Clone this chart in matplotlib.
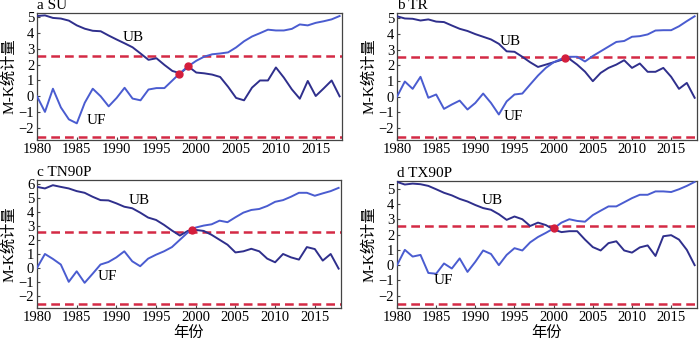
import numpy as np
import matplotlib
matplotlib.use("Agg")
from matplotlib import pyplot as plt

years = np.arange(1980, 2019)

# a SU
su_uf = [0, -0.98, 0.48, -0.7, -1.45, -1.7, -0.4, 0.48, 0, -0.63, -0.1, 0.54, -0.14, -0.25, 0.43, 0.52,
         0.52, 1.0, 1.48, 1.9, 2.24, 2.5, 2.65, 2.7, 2.77, 3.08, 3.47, 3.77, 3.98, 4.2, 4.15, 4.15, 4.25,
         4.53, 4.47, 4.63, 4.73, 4.85, 5.06]
su_ub = [5.06, 5.1, 4.94, 4.9, 4.77, 4.47, 4.26, 4.13, 4.1, 3.83, 3.58, 3.34, 3.09, 2.7, 2.3, 2.4,
         1.98, 1.6, 1.45, 1.88, 1.5, 1.45, 1.37, 1.22, 0.6, -0.1, -0.25, 0.55, 1.0, 1.0, 1.82, 1.18,
         0.44, -0.15, 0.97, 0.02, 0.5, 1.0, 0.0]
# b TR
tr_uf = [0, 0.97, 0.5, 1.27, -0.07, 0.14, -0.78, -0.5, -0.25, -0.82, -0.4, 0.2, -0.4, -1.14, -0.3, 0.14,
         0.2, 0.78, 1.35, 1.84, 2.2, 2.42, 2.55, 2.55, 2.25, 2.6, 2.9, 3.2, 3.5, 3.56, 3.83, 3.87, 3.98,
         4.23, 4.25, 4.25, 4.5, 4.83, 5.14]
tr_ub = [5.14, 5.0, 4.98, 4.87, 4.94, 4.8, 4.77, 4.55, 4.34, 4.2, 4.0, 3.83, 3.66, 3.38, 2.9, 2.87,
         2.55, 2.2, 1.9, 2.05, 2.2, 2.35, 2.42, 2.05, 1.6, 0.99, 1.52, 1.84, 2.05, 2.33, 1.84, 2.12,
         1.59, 1.59, 1.84, 1.27, 0.5, 0.88, -0.07]
# c TN90P
tn_uf = [0, 0.99, 0.64, 0.24, -0.99, -0.24, -1.06, -0.42, 0.24, 0.42, 0.75, 1.18, 0.47, 0.12, 0.66, 0.94,
         1.18, 1.48, 2.0, 2.52, 2.87, 3.01, 3.1, 3.36, 3.25, 3.6, 3.93, 4.12, 4.19, 4.4, 4.7, 4.82, 5.06,
         5.34, 5.34, 5.13, 5.3, 5.46, 5.69]
tn_ub = [5.76, 5.65, 5.88, 5.76, 5.65, 5.46, 5.34, 5.06, 4.82, 4.8, 4.59, 4.35, 4.24, 3.93, 3.58, 3.41,
         3.06, 2.66, 2.3, 2.63, 2.7, 2.63, 2.35, 2.0, 1.65, 1.1, 1.18, 1.36, 1.18, 0.66, 0.4, 0.99, 0.75,
         0.59, 1.48, 1.34, 0.52, 0.99, -0.05]
# d TX90P
tx_uf = [0, 1.0, 0.56, 0.67, -0.51, -0.56, 0.11, -0.22, 0.44, -0.44, 0.22, 0.96, 0.73, 0, 0.67, 1.11,
         0.96, 1.49, 1.84, 2.11, 2.4, 2.78, 3.0, 2.89, 2.84, 3.27, 3.56, 3.84, 3.84, 4.11, 4.38, 4.6, 4.6,
         4.82, 4.82, 4.78, 4.96, 5.18, 5.44]
tx_ub = [5.44, 5.27, 5.33, 5.29, 5.18, 4.96, 4.73, 4.56, 4.33, 4.16, 3.93, 3.73, 3.62, 3.33, 2.96, 3.18,
         3.0, 2.56, 2.78, 2.62, 2.33, 2.16, 2.22, 2.22, 1.67, 1.18, 0.96, 1.44, 1.56, 0.96, 0.82, 1.16, 1.29,
         0.6, 1.89, 1.96, 1.67, 1.0, 0]

titles = ["a SU", "b TR", "c TN90P", "d TX90P"]
uf_all = [su_uf, tr_uf, tn_uf, tx_uf]
ub_all = [su_ub, tr_ub, tn_ub, tx_ub]
# mutation years (red dots, placed on UF)
cross_years = [[1997.8, 1999.0], [2001.5], [1999.5], [2000.0]]
# where the UB / UF labels sit
ub_label = [(1992.1, 3.7), (1994.4, 3.5), (1992.9, 4.8), (1992.2, 4.2)]
uf_label = [(1987.5, -1.5), (1994.9, -1.25), (1988.9, -0.6), (1985.9, -1.0)]
ylims = [(-2.75, 5.25), (-2.77, 5.35), (-2.85, 6.25), (-2.8, 5.5)]
yticks = [range(-2, 6), range(-2, 6), range(-2, 7), range(-2, 6)]
crit = 2.56

serif = ["Liberation Serif", "Noto Sans CJK SC"]
cjk = ["Noto Sans CJK SC", "Liberation Serif"]

fig = plt.figure(figsize=(7, 3.43), dpi=100)
# axes rectangles in pixels: left, right, top, bottom
rects = [(37, 342, 13, 140), (397, 697, 13, 140), (37, 341, 180, 308), (397, 697, 181, 308)]
W, H = 700.0, 343.0

for i in range(4):
    l, r, t, b = rects[i]
    ax = fig.add_axes([l / W, 1 - b / H, (r - l) / W, (b - t) / H])
    ax.plot(years, ub_all[i], color="#2f2f8c", lw=1.4, zorder=3)
    ax.plot(years, uf_all[i], color="#4a5cd0", lw=1.4, zorder=3)
    ax.axhline(crit, color="#d42a45", lw=1.8, ls=(0, (3.5, 2)), zorder=2)
    ax.axhline(-crit, color="#d42a45", lw=1.8, ls=(0, (3.5, 2)), zorder=2)
    cy = np.interp(cross_years[i], years, uf_all[i])
    ax.plot(cross_years[i], cy, "o", color="#d41e3c", ms=5, zorder=4)
    ax.text(ub_label[i][0], ub_label[i][1], "UB", fontsize=11, family=serif, ha="center", va="center")
    ax.text(uf_label[i][0], uf_label[i][1], "UF", fontsize=11, family=serif, ha="center", va="center")
    ax.set_xlim(1980, 2018.3)
    ax.set_ylim(*ylims[i])
    ax.set_xticks(range(1980, 2019, 5))
    ax.set_yticks(list(yticks[i]))
    ax.set_yticklabels([str(v).replace("-", "\u2212") for v in yticks[i]])
    ax.tick_params(direction="in", length=2.5, labelsize=10.5, pad=2, color="#444444")
    for lab in ax.get_xticklabels() + ax.get_yticklabels():
        lab.set_family(serif)
    for s in ax.spines.values():
        s.set_color("#444444")
        s.set_linewidth(0.9)
    ax.text(0.0, 1.01, titles[i], transform=ax.transAxes, fontsize=11, family=serif,
            ha="left", va="bottom")
    ax.set_ylabel("M-K统计量", fontsize=11, family=serif, labelpad=2)
    if i >= 2:
        ax.set_xlabel("年份", fontsize=11, family=cjk, labelpad=0)

plt.savefig("out.png", dpi=100)
